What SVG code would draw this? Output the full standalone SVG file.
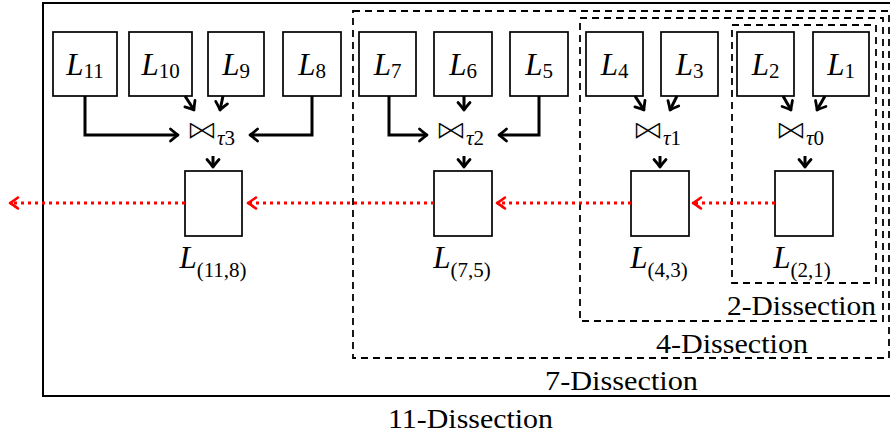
<svg xmlns="http://www.w3.org/2000/svg" width="890" height="436" viewBox="0 0 890 436">
<defs>
<style>
.box{fill:#fff;stroke:#000;stroke-width:1.7}
.arr{fill:none;stroke:#000;stroke-width:3;marker-end:url(#ah)}
.red{fill:none;stroke:#f00;stroke-width:3;stroke-dasharray:3 4;marker-end:url(#ahr)}
.dash{fill:none;stroke:#000;stroke-width:1.8;stroke-dasharray:7 5}
.solid{fill:none;stroke:#000;stroke-width:2}
.t{font-family:"Liberation Serif",serif;font-size:31px;fill:#000}
.lab{font-family:"Liberation Serif",serif;font-size:28px;fill:#000}
.it{font-style:italic}
.sub{font-size:21px}
.bt{font-family:"DejaVu Sans",sans-serif;font-size:27px;fill:#000;stroke:#fff;stroke-width:0.9}
.ts{font-family:"Liberation Serif",serif;font-size:21px;fill:#000}
</style>
<marker id="ah" markerUnits="userSpaceOnUse" markerWidth="20" markerHeight="20" viewBox="-10 -10 20 20" refX="0" refY="0" orient="auto">
<path d="M-7.5,-6 Q-2,-1.2 0,0 Q-2,1.2 -7.5,6" fill="none" stroke="#000" stroke-width="2.8" stroke-linecap="round" stroke-linejoin="round"/>
</marker>
<marker id="ahr" markerUnits="userSpaceOnUse" markerWidth="20" markerHeight="20" viewBox="-10 -10 20 20" refX="0" refY="0" orient="auto">
<path d="M-8,-5.5 Q-2,-1 0,0 Q-2,1 -8,5.5" fill="none" stroke="#f00" stroke-width="2.6" stroke-linecap="round" stroke-linejoin="round" stroke-dasharray="none"/>
</marker>
</defs>
<rect width="890" height="436" fill="#fff"/>

<g id="dissections">
<rect class="solid" x="43" y="3" width="870" height="393"/>
<rect class="dash" x="353" y="11" width="536" height="347"/>
<rect class="dash" x="580" y="18" width="303" height="303"/>
<rect class="dash" x="732" y="25" width="144" height="258"/>
<text class="lab" x="727" y="315" textLength="149" lengthAdjust="spacingAndGlyphs">2-Dissection</text>
<text class="lab" x="656" y="353" textLength="152" lengthAdjust="spacingAndGlyphs">4-Dissection</text>
<text class="lab" x="545" y="390" textLength="153" lengthAdjust="spacingAndGlyphs">7-Dissection</text>
<text class="lab" x="388" y="428" textLength="165" lengthAdjust="spacingAndGlyphs">11-Dissection</text>
</g>

<g id="L11"><rect class="box" x="53" y="32" width="64" height="64"/><text class="t" x="85" y="75" text-anchor="middle"><tspan class="it">L</tspan><tspan class="sub" dy="3">11</tspan></text></g>
<g id="L10"><rect class="box" x="129" y="32" width="63" height="64"/><text class="t" x="160.5" y="75" text-anchor="middle"><tspan class="it">L</tspan><tspan class="sub" dy="3">10</tspan></text></g>
<g id="L9"><rect class="box" x="208" y="32" width="56" height="64"/><text class="t" x="236" y="75" text-anchor="middle"><tspan class="it">L</tspan><tspan class="sub" dy="3">9</tspan></text></g>
<g id="L8"><rect class="box" x="283" y="32" width="58" height="64"/><text class="t" x="312" y="75" text-anchor="middle"><tspan class="it">L</tspan><tspan class="sub" dy="3">8</tspan></text></g>
<g id="L7"><rect class="box" x="359" y="32" width="57" height="64"/><text class="t" x="387.5" y="75" text-anchor="middle"><tspan class="it">L</tspan><tspan class="sub" dy="3">7</tspan></text></g>
<g id="L6"><rect class="box" x="434" y="32" width="58" height="64"/><text class="t" x="463" y="75" text-anchor="middle"><tspan class="it">L</tspan><tspan class="sub" dy="3">6</tspan></text></g>
<g id="L5"><rect class="box" x="510" y="32" width="58" height="64"/><text class="t" x="539" y="75" text-anchor="middle"><tspan class="it">L</tspan><tspan class="sub" dy="3">5</tspan></text></g>
<g id="L4"><rect class="box" x="586" y="32" width="57" height="64"/><text class="t" x="614.5" y="75" text-anchor="middle"><tspan class="it">L</tspan><tspan class="sub" dy="3">4</tspan></text></g>
<g id="L3"><rect class="box" x="661" y="32" width="57" height="64"/><text class="t" x="689.5" y="75" text-anchor="middle"><tspan class="it">L</tspan><tspan class="sub" dy="3">3</tspan></text></g>
<g id="L2"><rect class="box" x="737" y="32" width="57" height="64"/><text class="t" x="765.5" y="75" text-anchor="middle"><tspan class="it">L</tspan><tspan class="sub" dy="3">2</tspan></text></g>
<g id="L1"><rect class="box" x="813" y="32" width="56" height="64"/><text class="t" x="841" y="75" text-anchor="middle"><tspan class="it">L</tspan><tspan class="sub" dy="3">1</tspan></text></g>

<g id="join3"><text class="bt" transform="translate(202,139) scale(1.2,1)" text-anchor="middle">⋈</text><text class="ts" x="217" y="145"><tspan class="it">τ</tspan>3</text></g>
<g id="join2"><text class="bt" transform="translate(451,139) scale(1.2,1)" text-anchor="middle">⋈</text><text class="ts" x="466" y="145"><tspan class="it">τ</tspan>2</text></g>
<g id="join1"><text class="bt" transform="translate(648,139) scale(1.2,1)" text-anchor="middle">⋈</text><text class="ts" x="663" y="145"><tspan class="it">τ</tspan>1</text></g>
<g id="join0"><text class="bt" transform="translate(791,139) scale(1.2,1)" text-anchor="middle">⋈</text><text class="ts" x="806" y="145"><tspan class="it">τ</tspan>0</text></g>

<g id="L118"><rect class="box" x="185" y="171" width="57" height="65"/><text class="t" x="213" y="268" text-anchor="middle"><tspan class="it">L</tspan><tspan class="sub" dy="9">(11,8)</tspan></text></g>
<g id="L75"><rect class="box" x="434" y="171" width="58" height="65"/><text class="t" x="462" y="268" text-anchor="middle"><tspan class="it">L</tspan><tspan class="sub" dy="9">(7,5)</tspan></text></g>
<g id="L43"><rect class="box" x="631" y="171" width="58" height="65"/><text class="t" x="659" y="268" text-anchor="middle"><tspan class="it">L</tspan><tspan class="sub" dy="9">(4,3)</tspan></text></g>
<g id="L21"><rect class="box" x="775" y="171" width="58" height="65"/><text class="t" x="802" y="268" text-anchor="middle"><tspan class="it">L</tspan><tspan class="sub" dy="9">(2,1)</tspan></text></g>

<g id="connectors">
<path class="arr" d="M85,96 V135 H178"/>
<path class="arr" d="M312,96 V135 H250"/>
<path class="arr" d="M185,96 L194,110"/>
<path class="arr" d="M223,96 L220,110"/>
<path class="arr" d="M213,156 V167"/>
<path class="arr" d="M389,96 V135 H427"/>
<path class="arr" d="M539,96 V135 H499"/>
<path class="arr" d="M464,96 V110"/>
<path class="arr" d="M464,156 V167"/>
<path class="arr" d="M635,96 L644,110"/>
<path class="arr" d="M677,96 L670,110"/>
<path class="arr" d="M660,156 V167"/>
<path class="arr" d="M783,96 L791,110"/>
<path class="arr" d="M825,96 L817,110"/>
<path class="arr" d="M805,156 V167"/>
<path class="red" d="M775,203 H693"/>
<path class="red" d="M631,203 H497"/>
<path class="red" d="M434,203 H248"/>
<path class="red" d="M185,203 H10"/>
</g>
</svg>
